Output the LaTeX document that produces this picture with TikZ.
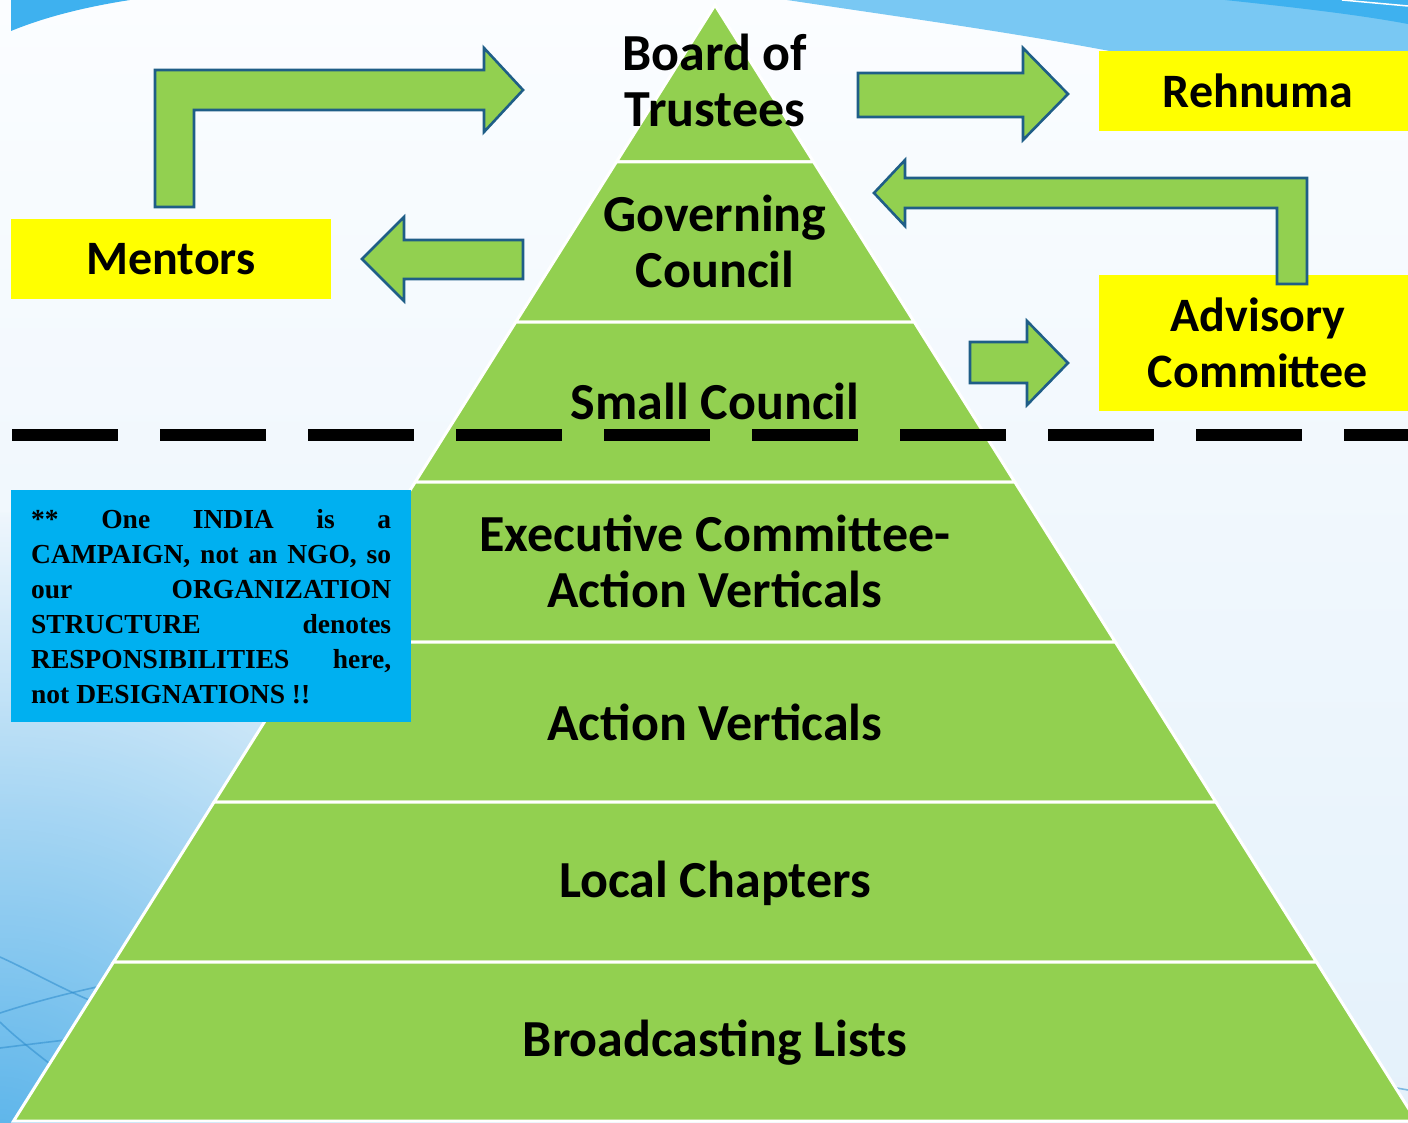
\documentclass[tikz,border=0pt]{standalone}
\usepackage{fontspec}
\setmainfont{Carlito}
\newfontfamily\boxserif{Liberation Serif}
\usetikzlibrary{fadings}
\tikzfading[name=cornerfade, inner color=transparent!0, outer color=transparent!100]
\definecolor{pgreen}{RGB}{146,208,80}
\definecolor{aedge}{RGB}{31,94,135}
\definecolor{pyellow}{RGB}{255,255,0}
\definecolor{pblue}{RGB}{0,176,240}
\definecolor{bgtop}{RGB}{251,253,255}
\definecolor{bgbot}{RGB}{228,241,251}
\definecolor{swA}{RGB}{62,177,239}
\definecolor{swB}{RGB}{121,200,243}
\definecolor{cornerblue}{RGB}{90,180,234}
\definecolor{thinline}{RGB}{45,140,205}
\begin{document}
\begin{tikzpicture}[x=1pt,y=-1pt,
  layer/.style={fill=pgreen, draw=white, line width=3pt, line join=miter},
  blockarrow/.style={fill=pgreen, draw=aedge, line width=2.6pt, line join=miter},
  ybox/.style={fill=pyellow, inner sep=0pt, align=center, text=black,
    font=\fontsize{48}{56}\selectfont\bfseries},
  ptext/.style={font=\fontsize{52}{56}\selectfont\bfseries, align=center, text=black, inner sep=0pt},
  notebox/.style={fill=pblue, inner sep=0pt, minimum width=400pt, minimum height=232pt, text=black},
  divider/.style={line width=12pt, dash pattern=on 106pt off 42pt},
]
\useasboundingbox (0,0) rectangle (1408,1123);
% ---------- background ----------
\begin{scope}
\clip (0,0) rectangle (1408,1123);
\shade[top color=bgtop, bottom color=bgbot] (0,0) rectangle (1408,1123);
\fill[cornerblue, path fading=cornerfade] (0,1150) circle (640pt);
\fill[swA] (11,0) -- (11,31) .. controls (45,17) and (85,7) .. (130,0) -- cycle;
\fill[swB] (787,0) .. controls (900,17) and (1010,32) .. (1115,52) -- (1408,110) -- (1408,0) -- cycle;
\fill[swA] (1225,0) .. controls (1300,8) and (1360,15) .. (1408,24) -- (1408,0) -- cycle;
\draw[white, line width=1.5pt] (1342,0) -- (1408,6);
\begin{scope}[thinline, line width=1.6pt, opacity=0.55]
\draw (0,957) .. controls (40,975) and (80,1000) .. (130,1015);
\draw (0,1013) .. controls (40,1000) and (80,990) .. (130,980);
\draw (0,1048) .. controls (40,1043) and (80,1038) .. (130,1033);
\draw (0,1022) .. controls (15,1037) and (35,1052) .. (55,1068);
\draw (1320,1075) .. controls (1350,1080) and (1380,1085) .. (1408,1090);
\end{scope}
% ---------- pyramid ----------
\foreach \a/\b in {5/162,162/322,322/482,482/642,642/802,802/962,962/1121}
  \path[layer] ({715-0.6285*(\a-5)},\a) -- ({715+0.6285*(\a-5)},\a)
     -- ({715+0.6285*(\b-5)},\b) -- ({715-0.6285*(\b-5)},\b) -- cycle;
\end{scope}
\node[ptext] (board) at (715,80) {Board of\\Trustees};
\node[ptext] (gov) at (715,241) {Governing\\Council};
\node[ptext] (small) at (715,401) {Small Council};
\node[ptext] (exec) at (715,561) {Executive Committee-\\Action Verticals};
\node[ptext] (action) at (715,722) {Action Verticals};
\node[ptext] (local) at (715,883) {Local Chapters};
\node[ptext] (broad) at (715,1043) {Broadcasting Lists};
% ---------- divider ----------
\coordinate (dl) at (12,435);
\coordinate (dr) at (1408,435);
\draw[divider] (dl) -- (dr);
% ---------- boxes ----------
\node[ybox, minimum width=320pt, minimum height=80pt] (mentors) at (171,259) {Mentors};
\node[ybox, minimum width=309pt, minimum height=80pt] (rehnuma) at (1253.5,91) {\hspace*{9pt}Rehnuma};
\node[ybox, minimum width=309pt, minimum height=136pt] (advisory) at (1253.5,343) {\hspace*{9pt}Advisory\\\hspace*{9pt}Committee};
\node[notebox] (note) at (211,606) {};
\node[anchor=north west, inner sep=0pt, text=black,
  font=\boxserif\bfseries\fontsize{27.5}{35}\selectfont] (notetext) at (31,509)
 {\begin{minipage}{360pt}\setlength{\parindent}{0pt}%
 \makebox[360pt][s]{** One INDIA is a}\\
 \makebox[360pt][s]{CAMPAIGN, not an NGO, so}\\
 \makebox[360pt][s]{our ORGANIZATION}\\
 \makebox[360pt][s]{STRUCTURE denotes}\\
 \makebox[360pt][s]{RESPONSIBILITIES here,}\\
 not DESIGNATIONS !!\end{minipage}};
% ---------- block arrows ----------
\path[blockarrow] (155,207) -- (155,70) -- (484,70) -- (484,48) -- (523,90) -- (484,132) -- (484,110) -- (194,110) -- (194,207) -- cycle;
\path[blockarrow] (523,240) -- (404,240) -- (404,217) -- (362,259) -- (404,301) -- (404,279) -- (523,279) -- cycle;
\path[blockarrow] (858,73) -- (1023,73) -- (1023,48) -- (1068,94) -- (1023,140) -- (1023,117) -- (858,117) -- cycle;
\path[blockarrow] (1277,284) -- (1277,208) -- (905,208) -- (905,226) -- (874,193) -- (905,160) -- (905,178) -- (1307,178) -- (1307,284) -- cycle;
\path[blockarrow] (970,342) -- (1027,342) -- (1027,321) -- (1068,363) -- (1027,405) -- (1027,383) -- (970,383) -- cycle;
\end{tikzpicture}
\end{document}
